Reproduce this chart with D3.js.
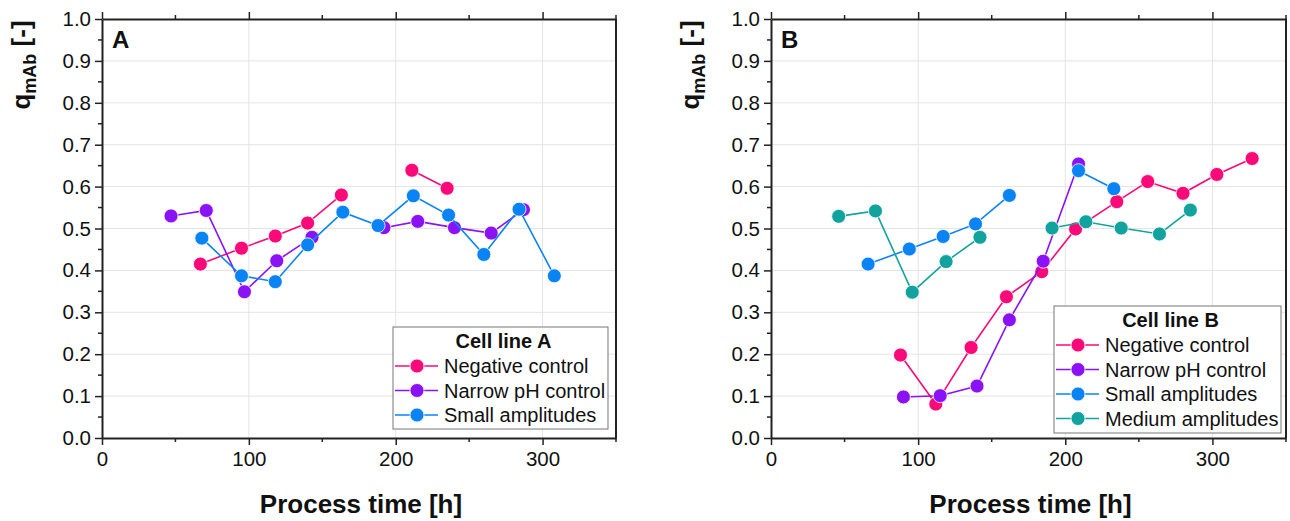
<!DOCTYPE html>
<html>
<head>
<meta charset="utf-8">
<script src="https://cdn.jsdelivr.net/npm/d3@7"></script>
<style>
  body { margin: 0; background: #fff; }
  svg { display: block; font-family: "Liberation Sans", Arial, sans-serif; }
</style>
</head>
<body>
<svg id="chart" width="1290" height="521"></svg>
<script>
// ---------- Data (null marks a break in the line) ----------
const xTicks = [0, 100, 200, 300];
const yTicks = [0.0, 0.1, 0.2, 0.3, 0.4, 0.5, 0.6, 0.7, 0.8, 0.9, 1.0];

// Panel A – Cell line A
const timeA_neg   = [67, 95, 118, 140, 163, null, 211, 235];
const qA_neg      = [0.415, 0.453, 0.482, 0.513, 0.580, null, 0.639, 0.596];
const timeA_nph   = [47, 71, 97, 119, 143, null, 192, 215, 240, 265, 287];
const qA_nph      = [0.530, 0.543, 0.349, 0.423, 0.479, null, 0.502, 0.517, 0.502, 0.489, 0.545];
const timeA_small = [68, 95, 118, 140, 164, 188, 212, 236, 260, 284, 308];
const qA_small    = [0.477, 0.387, 0.373, 0.461, 0.539, 0.507, 0.578, 0.532, 0.438, 0.546, 0.387];

// Panel B – Cell line B
const timeB_neg   = [88, 112, 136, 160, 184, 207, 235, 256, 280, 303, 327];
const qB_neg      = [0.198, 0.081, 0.216, 0.337, 0.397, 0.499, 0.564, 0.612, 0.584, 0.629, 0.667];
const timeB_nph   = [90, 115, 140, 162, 185, 209];
const qB_nph      = [0.098, 0.101, 0.124, 0.282, 0.422, 0.654];
const timeB_small = [66, 94, 117, 139, 162, null, 209, 233];
const qB_small    = [0.415, 0.451, 0.481, 0.511, 0.579, null, 0.638, 0.595];
const timeB_med   = [46, 71, 96, 119, 142, null, 191, 214, 238, 264, 285];
const qB_med      = [0.529, 0.542, 0.348, 0.421, 0.479, null, 0.501, 0.516, 0.501, 0.487, 0.544];

const seriesNames = ["Negative control", "Narrow pH control", "Small amplitudes", "Medium amplitudes"];
const seriesColors = ["#FA0A78", "#8A12F5", "#0A84F5", "#12A39E"];

// ---------- Drawing ----------
const svg = d3.select("#chart");

function zip(xs, ys) { return xs.map((x, i) => ({x: x, y: ys[i]})); }

function drawPanel(opt) {
  const x = d3.scaleLinear().domain([0, 350]).range([opt.left, opt.right]);
  const y = d3.scaleLinear().domain([0, 1]).range([438, 19]);
  const g = svg.append("g");

  // grid
  g.append("g").selectAll("line.hg").data(yTicks.slice(1, -1)).join("line")
    .attr("x1", opt.left).attr("x2", opt.right)
    .attr("y1", d => y(d)).attr("y2", d => y(d))
    .attr("stroke", "#e4e4e4").attr("stroke-width", 1);
  g.append("g").selectAll("line.vg").data(xTicks.slice(1)).join("line")
    .attr("y1", y(0)).attr("y2", y(1))
    .attr("x1", d => x(d)).attr("x2", d => x(d))
    .attr("stroke", "#e4e4e4").attr("stroke-width", 1);

  // bottom axis
  const xb = g.append("g").attr("transform", `translate(0,${y(0)})`)
    .call(d3.axisBottom(x).tickValues(xTicks).tickFormat(d3.format("d")).tickSizeInner(7).tickSizeOuter(0).tickPadding(6));
  xb.append("g").selectAll("line").data([50, 150, 250, 350]).join("line")
    .attr("x1", d => x(d)).attr("x2", d => x(d)).attr("y1", 0).attr("y2", 4)
    .attr("stroke", "#222").attr("stroke-width", 1.5);
  // left axis
  const yl = g.append("g").attr("transform", `translate(${opt.left},0)`)
    .call(d3.axisLeft(y).tickValues(yTicks).tickFormat(d3.format(".1f")).tickSizeInner(7).tickSizeOuter(0).tickPadding(4));
  yl.append("g").selectAll("line").data(d3.range(0.05, 1, 0.1)).join("line")
    .attr("y1", d => y(d)).attr("y2", d => y(d)).attr("x1", 0).attr("x2", -4)
    .attr("stroke", "#222").attr("stroke-width", 1.5);
  // top axis ticks
  const xt = g.append("g").attr("transform", `translate(0,${y(1)})`)
    .call(d3.axisTop(x).tickValues(xTicks).tickFormat("").tickSizeInner(7).tickSizeOuter(0));
  xt.append("g").selectAll("line").data([50, 150, 250, 350]).join("line")
    .attr("x1", d => x(d)).attr("x2", d => x(d)).attr("y1", 0).attr("y2", -4)
    .attr("stroke", "#222").attr("stroke-width", 1.5);
  // right border
  g.append("line").attr("x1", opt.right).attr("x2", opt.right).attr("y1", y(0)).attr("y2", y(1))
    .attr("stroke", "#222").attr("stroke-width", 2);

  [xb, yl, xt].forEach(a => {
    a.select(".domain").attr("stroke", "#222").attr("stroke-width", 2);
    a.selectAll(".tick line").attr("stroke", "#222").attr("stroke-width", 1.5);
    a.selectAll(".tick text").attr("font-size", 20.5).attr("fill", "#111")
      .attr("font-family", "Liberation Sans, Arial, sans-serif");
  });

  // series
  const line = d3.line().defined(d => d.y !== null).x(d => x(d.x)).y(d => y(d.y));
  opt.series.forEach(s => {
    const pts = zip(s.xs, s.ys);
    g.append("path").datum(pts).attr("d", line)
      .attr("fill", "none").attr("stroke", s.color).attr("stroke-width", 1.6);
    g.append("g").selectAll("circle").data(pts.filter(d => d.y !== null)).join("circle")
      .attr("cx", d => x(d.x)).attr("cy", d => y(d.y)).attr("r", 7)
      .attr("fill", s.color).attr("stroke", "#fff").attr("stroke-width", 0.8);
  });

  // panel label
  g.append("text").attr("x", opt.left + 10).attr("y", 48).text(opt.label)
    .attr("font-size", 24).attr("font-weight", "bold").attr("fill", "#111");

  // axis titles
  g.append("text").attr("x", (opt.left + opt.right) / 2 + 2).attr("y", 513)
    .attr("text-anchor", "middle").attr("font-size", 26).attr("font-weight", "bold")
    .attr("fill", "#111").text("Process time [h]");
  const yt = g.append("text").attr("transform", `translate(${opt.left - 72},65) rotate(-90)`)
    .attr("text-anchor", "middle").attr("font-size", 26).attr("font-weight", "bold").attr("fill", "#111");
  yt.append("tspan").text("q");
  yt.append("tspan").attr("font-size", 18).attr("dy", 6).text("mAb");
  yt.append("tspan").attr("dy", -6).text(" [-]");

  // legend
  const L = opt.legend;
  const lg = g.append("g");
  lg.append("rect").attr("x", L.x).attr("y", L.y).attr("width", L.w).attr("height", L.h)
    .attr("fill", "#fff").attr("stroke", "#777").attr("stroke-width", 1);
  lg.append("text").attr("x", L.x + L.w / 2 + 3).attr("y", L.y + 21).attr("text-anchor", "middle")
    .attr("font-size", 20).attr("font-weight", "bold").attr("fill", "#111").text(L.title);
  opt.series.forEach((s, i) => {
    const cy = L.y + 39 + i * 24.5;
    lg.append("line").attr("x1", L.x + 2).attr("x2", L.x + 45).attr("y1", cy).attr("y2", cy)
      .attr("stroke", s.color).attr("stroke-width", 1.6);
    lg.append("circle").attr("cx", L.x + 24).attr("cy", cy).attr("r", 7)
      .attr("fill", s.color).attr("stroke", "#fff").attr("stroke-width", 0.8);
    lg.append("text").attr("x", L.x + 51).attr("y", cy + 7).attr("font-size", 20)
      .attr("fill", "#111").text(s.name);
  });
}

drawPanel({
  left: 102, right: 616, label: "A",
  legend: {x: 393, y: 327, w: 215, h: 102, title: "Cell line A"},
  series: [
    {name: seriesNames[0], color: seriesColors[0], xs: timeA_neg, ys: qA_neg},
    {name: seriesNames[1], color: seriesColors[1], xs: timeA_nph, ys: qA_nph},
    {name: seriesNames[2], color: seriesColors[2], xs: timeA_small, ys: qA_small}
  ]
});

drawPanel({
  left: 771, right: 1286, label: "B",
  legend: {x: 1054, y: 306, w: 227, h: 127, title: "Cell line B"},
  series: [
    {name: seriesNames[0], color: seriesColors[0], xs: timeB_neg, ys: qB_neg},
    {name: seriesNames[1], color: seriesColors[1], xs: timeB_nph, ys: qB_nph},
    {name: seriesNames[2], color: seriesColors[2], xs: timeB_small, ys: qB_small},
    {name: seriesNames[3], color: seriesColors[3], xs: timeB_med, ys: qB_med}
  ]
});
</script>
</body>
</html>
